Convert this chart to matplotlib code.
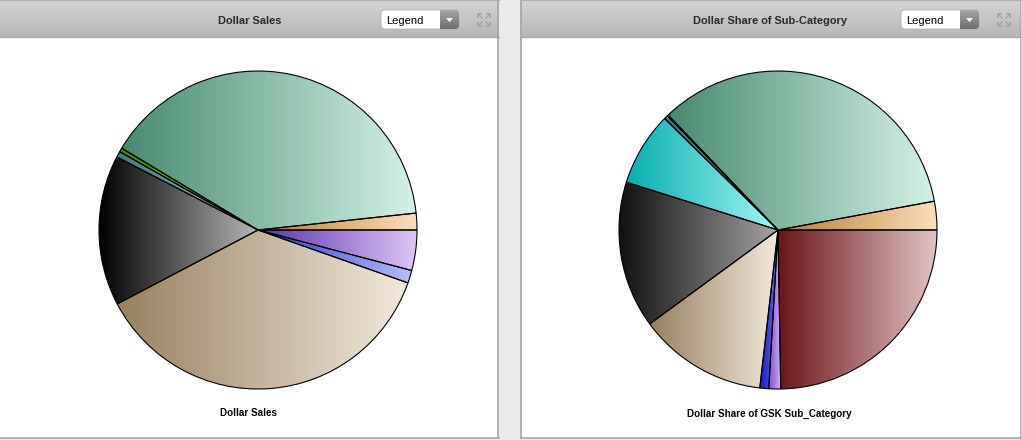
import numpy as np
import matplotlib
matplotlib.use("Agg")
import matplotlib.pyplot as plt
from matplotlib.colors import LinearSegmentedColormap
from matplotlib.patches import Rectangle, FancyBboxPatch, Polygon

plt.rcParams['font.family'] = ['Liberation Sans', 'DejaVu Sans']

W, H = 1021, 440

# Data (percent of each pie, counter-clockwise from 3 o'clock)
left_title = "Dollar Sales"
left_caption = "Dollar Sales"
left_values = [1.7, 39.7, 0.4, 0.6, 15.3, 36.9, 1.3, 4.1]
left_colors = [("#b87a35", "#fcdfb8"), ("#478a6f", "#d4f2e6"), ("#4f8000", "#a8dc20"),
               ("#3f7f85", "#8fb5c0"), ("#000000", "#b8b8b8"), ("#98805f", "#f3e9dc"),
               ("#3030d8", "#b9bffb"), ("#5c30a8", "#dec6f7")]

right_title = "Dollar Share of Sub-Category"
right_caption = "Dollar Share of GSK Sub_Category"
right_values = [2.9, 34.2, 0.1, 0.4, 7.5, 14.9, 13.1, 0.9, 1.2, 24.7]
right_colors = [("#b87a35", "#fcdfb8"), ("#478a6f", "#d4f2e6"), ("#000000", "#222222"),
                ("#3f6f78", "#6f95a0"), ("#08aeae", "#a0f6f6"), ("#0e0e0e", "#a4a4a4"),
                ("#98805f", "#f3e9dc"), ("#1a1ac8", "#7070e8"), ("#8050d0", "#d4aef2"),
                ("#6b1518", "#e2c4c4")]

fig = plt.figure(figsize=(W / 100, H / 100), dpi=100, facecolor="#ebebeb")
bg = fig.add_axes([0, 0, 1, 1])
bg.set_xlim(0, W)
bg.set_ylim(H, 0)
bg.axis("off")

header = np.linspace(0, 1, 64)[:, None]
header_cmap = LinearSegmentedColormap.from_list("h", ["#d6d6d6", "#b6b6b6"])
button_cmap = LinearSegmentedColormap.from_list("b", ["#a8a8a8", "#6e6e6e"])


def expand_icon(x0, y0):
    c = "#a6a6a6"
    s = 5.6
    for (cx, cy, dx, dy) in [(x0, y0, 1, 1), (x0 + 14, y0, -1, 1),
                             (x0, y0 + 14, 1, -1), (x0 + 14, y0 + 14, -1, -1)]:
        bg.add_patch(Polygon([(cx, cy), (cx + dx * s, cy), (cx, cy + dy * s)],
                             closed=True, fc=c, ec="none", zorder=5))
        bg.plot([cx + dx * 2, cx + dx * s], [cy + dy * 2, cy + dy * s],
                color=c, lw=0.9, zorder=5, solid_capstyle="butt")


def panel(x0, x1, title, title_x, caption, caption_x, drop_x, icon_x):
    bg.add_patch(Rectangle((x0, 0), x1 - x0, 438.5, fc="white", ec="none", zorder=1))
    bg.imshow(header, extent=[x0, x1, 37.5, 0], aspect="auto", cmap=header_cmap, zorder=2)
    bg.plot([x0, x1], [37.5, 37.5], color="#a8a8a8", lw=1, zorder=3)
    bg.plot([x0, x1], [0.5, 0.5], color="#b0b0b0", lw=1, zorder=3)
    bg.plot([x1 - .5, x1 - .5], [0, 438.5], color="#a4a4a4", lw=1.2, zorder=3)
    if x0 > 0:
        bg.plot([x0 + .5, x0 + .5], [0, 438.5], color="#a4a4a4", lw=1.2, zorder=3)
    bg.plot([x0, x1], [438.5, 438.5], color="#a4a4a4", lw=1.2, zorder=3)
    bg.text(title_x, 20.5, title, ha="center", va="center", fontsize=7.9, fontweight="bold",
            color="#2a2a2a", zorder=4)
    bg.text(caption_x, 413.5, caption, ha="center", va="center", fontsize=7.1, fontweight="bold",
            color="black", zorder=4)
    # Legend dropdown
    box = FancyBboxPatch((drop_x + 0.5, 10.5), 77, 18, boxstyle="round,pad=0.5,rounding_size=4",
                         fc="white", ec="#b0b0b0", lw=0.6, zorder=4)
    bg.add_patch(box)
    im = bg.imshow(header, extent=[drop_x + 58.5, drop_x + 79, 29.5, 10], aspect="auto",
                   cmap=button_cmap, zorder=5)
    im.set_clip_path(box)
    bg.add_patch(Polygon([(drop_x + 65, 18), (drop_x + 72, 18), (drop_x + 68.5, 22)],
                         closed=True, fc="white", ec="none", zorder=6))
    bg.text(drop_x + 5, 20.8, "Legend", ha="left", va="center", fontsize=8.0, color="black", zorder=6)
    expand_icon(icon_x, 13)


panel(0, 498.5, left_title, 249.5, left_caption, 248.5, 381, 477)
panel(520.5, 1021, right_title, 770, right_caption, 769.5, 901, 997)
bg.set_xlim(0, W)
bg.set_ylim(H, 0)


def gradient_pie(cx, cy, r, values, colors):
    ax = fig.add_axes([(cx - r) / W, 1 - (cy + r) / H, 2 * r / W, 2 * r / H])
    ax.set_zorder(2)
    ax.patch.set_alpha(0)
    wedges, _ = ax.pie(values, startangle=0, counterclock=True, radius=1,
                       wedgeprops=dict(edgecolor="black", linewidth=0.8, zorder=3))
    ax.set_xlim(-1, 1)
    ax.set_ylim(-1, 1)
    ax.set_aspect("equal")
    ramp = np.linspace(0, 1, 256)[None, :]
    for w, (c0, c1) in zip(wedges, colors):
        w.set_clip_on(False)
        w.set_facecolor("none")
        verts = w.get_path().vertices
        verts = w.get_patch_transform().transform(verts)
        x_lo, x_hi = verts[:, 0].min(), verts[:, 0].max()
        y_lo, y_hi = verts[:, 1].min(), verts[:, 1].max()
        cmap = LinearSegmentedColormap.from_list("g", [c0, c1])
        im = ax.imshow(ramp, extent=[x_lo, x_hi, y_lo, y_hi], aspect="auto", cmap=cmap,
                       zorder=2, interpolation="bilinear")
        im.set_clip_path(w)
    ax.set_xlim(-1, 1)
    ax.set_ylim(-1, 1)


gradient_pie(258, 230, 159, left_values, left_colors)
gradient_pie(778, 230, 159, right_values, right_colors)

fig.savefig("out.png", dpi=100, facecolor=fig.get_facecolor())
